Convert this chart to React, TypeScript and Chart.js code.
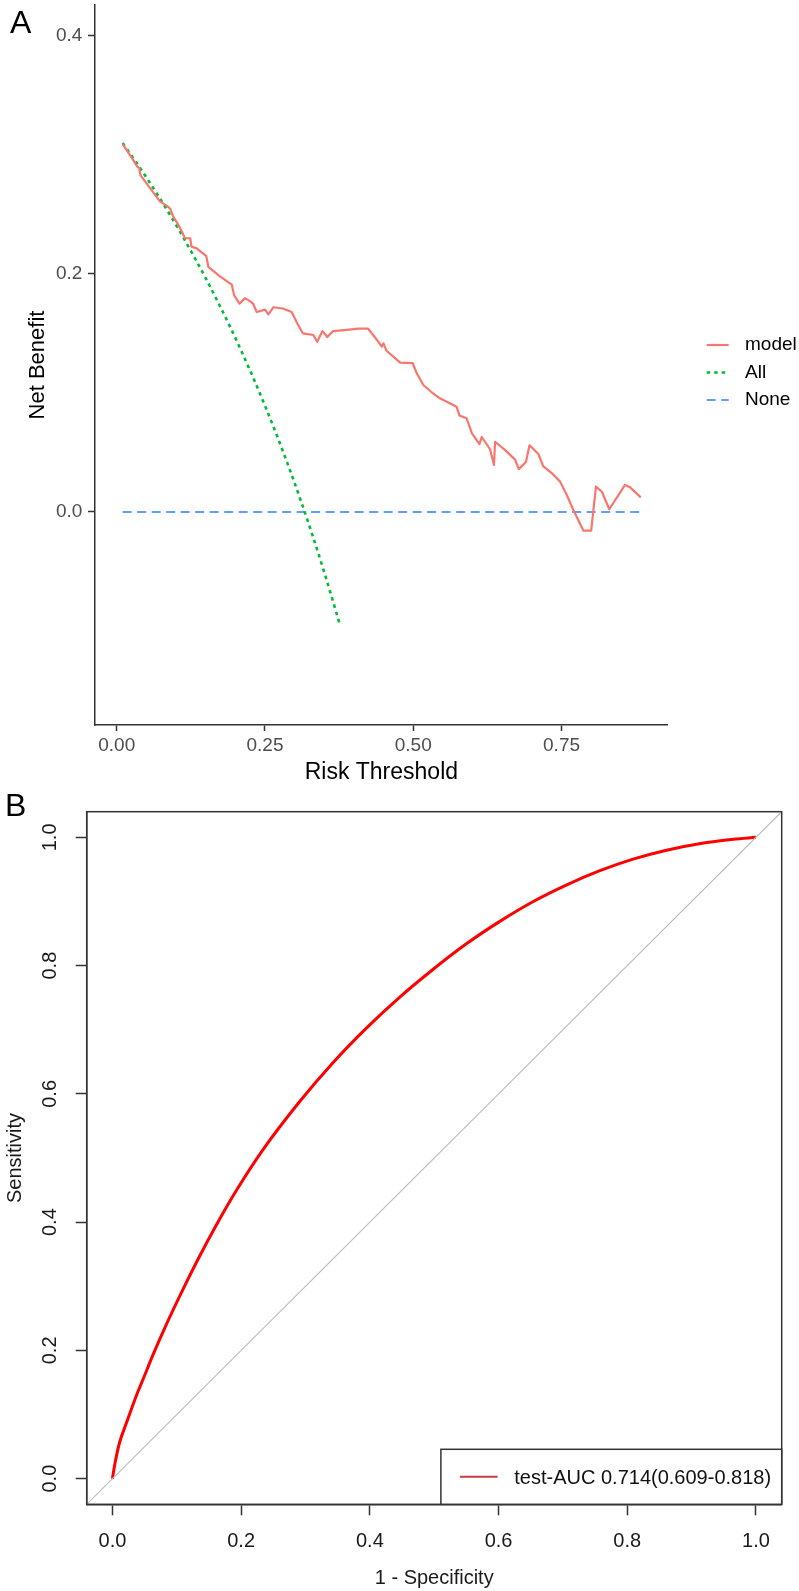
import React, { useEffect, useRef } from "react";
import { Chart, registerables } from "chart.js";
Chart.register(...registerables);

const FONT = "'Liberation Sans', Arial, Helvetica, sans-serif";

// ---------- Panel A: decision curve ----------
const thresholdModel = [
  0.01, 0.025, 0.035, 0.038, 0.04, 0.055, 0.073, 0.085, 0.09, 0.0955, 0.103, 0.11, 0.115,
  0.124, 0.126, 0.135, 0.151, 0.1545, 0.174, 0.194, 0.198, 0.207, 0.216, 0.222, 0.23, 0.236,
  0.25, 0.2557, 0.264, 0.28, 0.295, 0.305, 0.314, 0.3315, 0.338, 0.347, 0.355, 0.365, 0.388,
  0.4075, 0.424, 0.435, 0.447, 0.4497, 0.455, 0.478, 0.499, 0.506, 0.517, 0.53, 0.545, 0.573,
  0.578, 0.59, 0.599, 0.6115, 0.6155, 0.6295, 0.636, 0.638, 0.655, 0.6717, 0.678, 0.69, 0.696,
  0.711, 0.719, 0.735, 0.7476, 0.76, 0.77, 0.787, 0.8, 0.808, 0.818, 0.8305, 0.857, 0.8656, 0.8836,
];
const netBenefitModel = [
  0.309, 0.298, 0.29, 0.289, 0.283, 0.273, 0.261, 0.257, 0.255, 0.248, 0.242, 0.2355, 0.23,
  0.23, 0.223, 0.2215, 0.215, 0.206, 0.198, 0.191, 0.182, 0.175, 0.1795, 0.178, 0.175, 0.168,
  0.17, 0.166, 0.172, 0.171, 0.168, 0.158, 0.15, 0.1487, 0.143, 0.152, 0.147, 0.152, 0.153,
  0.154, 0.154, 0.147, 0.139, 0.1417, 0.1355, 0.1255, 0.125, 0.1165, 0.1067, 0.101, 0.0955, 0.0885,
  0.081, 0.0787, 0.066, 0.057, 0.063, 0.0527, 0.0395, 0.059, 0.052, 0.044, 0.036, 0.042, 0.056,
  0.0487, 0.0386, 0.032, 0.0255, 0.013, 0.0017, -0.0157, -0.0157, 0.0213, 0.017, 0.0023, 0.0227, 0.0207, 0.0123,
];
const thresholdAll = [
  0.01, 0.03, 0.05, 0.07, 0.09, 0.11, 0.13, 0.15, 0.17, 0.19, 0.21, 0.23, 0.25, 0.27, 0.29,
  0.31, 0.33, 0.35, 0.37, 0.377,
];
const netBenefitAll = [
  0.31, 0.2959, 0.2811, 0.2656, 0.2495, 0.2326, 0.2149, 0.1965, 0.1771, 0.1568, 0.1354, 0.113,
  0.0893, 0.0644, 0.038, 0.0101, -0.0194, -0.0508, -0.0841, -0.096,
];
const thresholdNone = [0.01, 0.884];
const netBenefitNone = [0, 0];
const seriesNamesA = ["model", "All", "None"];
const xTicksA = [0, 0.25, 0.5, 0.75];
const yTicksA = [0, 0.2, 0.4];

// ---------- Panel B: ROC curve ----------
const fpr = [
  0, 0.0036, 0.011, 0.0218, 0.037, 0.0476, 0.063, 0.084, 0.11, 0.136, 0.1617, 0.193, 0.234,
  0.291, 0.343, 0.395, 0.4466, 0.498, 0.55, 0.602, 0.654, 0.706, 0.7575, 0.809, 0.861, 0.912, 0.965, 1.0,
];
const tpr = [
  0, 0.022, 0.056, 0.087, 0.129, 0.155, 0.193, 0.241, 0.296, 0.348, 0.396, 0.45, 0.513,
  0.588, 0.649, 0.703, 0.751, 0.794, 0.834, 0.869, 0.9, 0.926, 0.948, 0.966, 0.98, 0.99, 0.997, 1.0,
];
const diagonal = [-0.04, 1.04];
const xTicksB = [0, 0.2, 0.4, 0.6, 0.8, 1.0];
const yTicksB = [0, 0.2, 0.4, 0.6, 0.8, 1.0];
const legendLabelB = "test-AUC 0.714(0.609-0.818)";

const toPts = (xs: number[], ys: number[]) => xs.map((x, i) => ({ x, y: ys[i] }));

const zeroPad = (s: any) => {
  s.paddingTop = 0;
  s.paddingBottom = 0;
  s.paddingLeft = 0;
  s.paddingRight = 0;
};

const legendAPlugin = {
  id: "legendA",
  afterDraw(chart: any) {
    const ctx = chart.ctx;
    const { top, bottom, right } = chart.chartArea;
    const cy = (top + bottom) / 2 + 7.5;
    ctx.save();
    chart.data.datasets.forEach((ds: any, i: number) => {
      const y = cy + (i - 1) * 27.5;
      ctx.beginPath();
      ctx.strokeStyle = ds.borderColor;
      ctx.lineWidth = ds.borderWidth;
      ctx.setLineDash(ds.borderDash || []);
      ctx.moveTo(right + 39, y);
      ctx.lineTo(right + 61, y);
      ctx.stroke();
      ctx.setLineDash([]);
      ctx.fillStyle = "#000";
      ctx.font = `19px ${FONT}`;
      ctx.textBaseline = "middle";
      ctx.textAlign = "left";
      ctx.fillText(ds.label, right + 77.3, y);
    });
    ctx.restore();
  },
};

const boxBPlugin = {
  id: "boxB",
  afterDraw(chart: any) {
    const ctx = chart.ctx;
    const { left, top, right, bottom } = chart.chartArea;
    ctx.save();
    ctx.strokeStyle = "#333";
    ctx.lineWidth = 1.5;
    ctx.strokeRect(left, top, right - left, bottom - top);
    // legend (bottom right)
    ctx.font = `20px ${FONT}`;
    const tw = ctx.measureText(legendLabelB).width;
    const w = 73.4 + tw + 10.6;
    const h = 55;
    const bx = right - w;
    const by = bottom - h;
    ctx.fillStyle = "#fff";
    ctx.fillRect(bx, by, w, h);
    ctx.strokeRect(bx, by, w, h);
    ctx.beginPath();
    ctx.strokeStyle = "#C83C3C";
    ctx.lineWidth = 2;
    ctx.moveTo(bx + 19, bottom - 27.6);
    ctx.lineTo(bx + 56.7, bottom - 27.6);
    ctx.stroke();
    ctx.fillStyle = "#111";
    ctx.textBaseline = "middle";
    ctx.textAlign = "left";
    ctx.fillText(legendLabelB, bx + 73.4, bottom - 26);
    ctx.restore();
  },
};

function DecisionCurve() {
  const ref = useRef<HTMLCanvasElement>(null);
  useEffect(() => {
    const chart = new Chart(ref.current!, {
      type: "scatter",
      data: {
        datasets: [
          {
            label: seriesNamesA[0],
            data: toPts(thresholdModel, netBenefitModel),
            showLine: true,
            borderColor: "#F8766D",
            borderWidth: 2.2,
            pointRadius: 0,
            borderJoinStyle: "round",
          },
          {
            label: seriesNamesA[1],
            data: toPts(thresholdAll, netBenefitAll),
            showLine: true,
            borderColor: "#00BA38",
            borderWidth: 2.6,
            borderDash: [3.5, 4],
            pointRadius: 0,
            cubicInterpolationMode: "monotone",
          },
          {
            label: seriesNamesA[2],
            data: toPts(thresholdNone, netBenefitNone),
            showLine: true,
            borderColor: "#619CFF",
            borderWidth: 2.2,
            borderDash: [9, 5.5],
            pointRadius: 0,
          },
        ],
      } as any,
      options: {
        responsive: false,
        animation: false,
        events: [],
        layout: { padding: { left: 0, top: 5, right: 131.3, bottom: 3.5 } },
        plugins: { legend: { display: false }, tooltip: { enabled: false } },
        scales: {
          x: {
            type: "linear",
            min: -0.0366,
            max: 0.929,
            afterBuildTicks: (s: any) => {
              s.ticks = xTicksA.map((v) => ({ value: v }));
            },
            afterFit: (s: any) => {
              s.height = 61.5;
              zeroPad(s);
            },
            ticks: {
              callback: (v: any) => Number(v).toFixed(2),
              color: "#4D4D4D",
              font: { family: FONT, size: 19 },
              padding: 3,
              maxRotation: 0,
              autoSkip: false,
            },
            grid: { drawOnChartArea: false, drawTicks: true, tickLength: 6, tickColor: "#333", tickWidth: 1.5 },
            border: { display: true, color: "#333", width: 1.5 },
            title: { display: true, text: "Risk Threshold", color: "#000", font: { family: FONT, size: 23 }, padding: 0 },
          },
          y: {
            type: "linear",
            min: -0.179,
            max: 0.426,
            afterBuildTicks: (s: any) => {
              s.ticks = yTicksA.map((v) => ({ value: v }));
            },
            afterFit: (s: any) => {
              s.width = 95;
              zeroPad(s);
            },
            ticks: {
              callback: (v: any) => Number(v).toFixed(1),
              color: "#4D4D4D",
              font: { family: FONT, size: 19 },
              padding: 5.7,
              autoSkip: false,
            },
            grid: { drawOnChartArea: false, drawTicks: true, tickLength: 7, tickColor: "#333", tickWidth: 1.5 },
            border: { display: true, color: "#333", width: 1.5 },
            title: { display: true, text: "Net Benefit", color: "#000", font: { family: FONT, size: 22 }, padding: { top: 25, bottom: 0 } },
          },
        },
      } as any,
      plugins: [legendAPlugin],
    });
    return () => chart.destroy();
  }, []);
  return (
    <canvas
      ref={ref}
      width={799}
      height={790}
      style={{ position: "absolute", left: 0, top: 0, width: 799, height: 790 }}
    />
  );
}

function RocCurve() {
  const ref = useRef<HTMLCanvasElement>(null);
  useEffect(() => {
    const chart = new Chart(ref.current!, {
      type: "scatter",
      data: {
        datasets: [
          {
            label: "reference",
            data: toPts(diagonal, diagonal),
            showLine: true,
            borderColor: "#BEBEBE",
            borderWidth: 1.2,
            pointRadius: 0,
          },
          {
            label: legendLabelB,
            data: toPts(fpr, tpr),
            showLine: true,
            borderColor: "#FF0000",
            borderWidth: 3,
            pointRadius: 0,
            borderJoinStyle: "round",
            cubicInterpolationMode: "monotone",
          },
        ],
      } as any,
      options: {
        responsive: false,
        animation: false,
        events: [],
        layout: { padding: { left: 0, top: 21.7, right: 17.3, bottom: 1 } },
        plugins: { legend: { display: false }, tooltip: { enabled: false } },
        scales: {
          x: {
            type: "linear",
            min: -0.04,
            max: 1.04,
            afterBuildTicks: (s: any) => {
              s.ticks = xTicksB.map((v) => ({ value: v }));
            },
            afterFit: (s: any) => {
              s.height = 85.7;
              zeroPad(s);
            },
            ticks: {
              callback: (v: any) => Number(v).toFixed(1),
              color: "#1a1a1a",
              font: { family: FONT, size: 20 },
              padding: 14.4,
              maxRotation: 0,
              autoSkip: false,
            },
            grid: { drawOnChartArea: false, drawTicks: true, tickLength: 11, tickColor: "#333", tickWidth: 1.5 },
            border: { display: true, color: "#333", width: 1.5 },
            title: { display: true, text: "1 - Specificity", color: "#1a1a1a", font: { family: FONT, size: 20 }, padding: 0 },
          },
          y: {
            type: "linear",
            min: -0.04,
            max: 1.04,
            afterBuildTicks: (s: any) => {
              s.ticks = yTicksB.map((v) => ({ value: v }));
            },
            afterFit: (s: any) => {
              s.width = 86.7;
              zeroPad(s);
            },
            ticks: {
              callback: (v: any) => Number(v).toFixed(1),
              color: "#1a1a1a",
              font: { family: FONT, size: 20 },
              padding: 11.8,
              minRotation: 90,
              maxRotation: 90,
              crossAlign: "center",
              autoSkip: false,
            },
            grid: { drawOnChartArea: false, drawTicks: true, tickLength: 11, tickColor: "#333", tickWidth: 1.5 },
            border: { display: true, color: "#333", width: 1.5 },
            title: { display: true, text: "Sensitivity", color: "#1a1a1a", font: { family: FONT, size: 20 }, padding: { top: 3, bottom: 0 } },
          },
        },
      } as any,
      plugins: [boxBPlugin],
    });
    return () => chart.destroy();
  }, []);
  return (
    <canvas
      ref={ref}
      width={799}
      height={801}
      style={{ position: "absolute", left: 0, top: 790, width: 799, height: 801 }}
    />
  );
}

export default function App() {
  const label: React.CSSProperties = {
    position: "absolute",
    fontFamily: FONT,
    fontSize: 32,
    lineHeight: "normal",
    color: "#000",
  };
  return (
    <div style={{ position: "absolute", left: 0, top: 0, width: 799, height: 1591, background: "#fff", overflow: "hidden" }}>
      <DecisionCurve />
      <RocCurve />
      <div style={{ ...label, left: 10, top: 4 }}>A</div>
      <div style={{ ...label, left: 5, top: 787 }}>B</div>
    </div>
  );
}
